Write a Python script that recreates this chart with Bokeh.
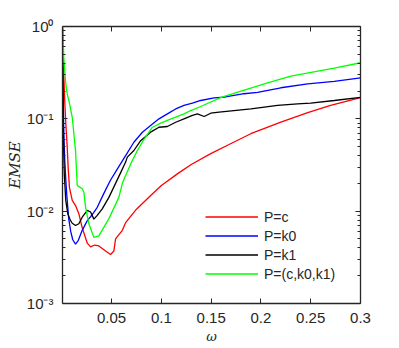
from bokeh.plotting import figure
from bokeh.models import (LinearAxis, LogAxis, FixedTicker, CustomJSTickFormatter,
                          Legend, LegendItem, Range1d)
from bokeh.embed import file_html
from bokeh.resources import INLINE

# ---- data ----
omega_c = [0.001, 0.0015, 0.002, 0.003, 0.004, 0.0054, 0.0065, 0.0077, 0.0105, 0.0138,
           0.0171, 0.0205, 0.0256, 0.0289, 0.0330, 0.0372, 0.044, 0.049, 0.0523, 0.054,
           0.0608, 0.0641, 0.075, 0.0893, 0.1, 0.1164, 0.13, 0.1496, 0.17, 0.1898,
           0.22, 0.247, 0.27, 0.3]
emse_c = [0.95, 0.5, 0.3, 0.15, 0.09, 0.05, 0.028, 0.018, 0.0131, 0.0115,
          0.0094, 0.0066, 0.0045, 0.0041, 0.0043, 0.0042, 0.0037, 0.0034, 0.0037, 0.0050,
          0.0062, 0.0075, 0.0105, 0.0148, 0.019, 0.0255, 0.032, 0.042, 0.054, 0.069,
          0.092, 0.117, 0.14, 0.17]

omega_k0 = [0.001, 0.0015, 0.002, 0.003, 0.004, 0.005, 0.006, 0.007, 0.009, 0.011,
            0.0138, 0.0165, 0.0205, 0.0256, 0.0289, 0.0322, 0.0356, 0.042, 0.0487, 0.0557,
            0.0641, 0.0724, 0.0809, 0.0892, 0.0976, 0.106, 0.1144, 0.1227, 0.1312, 0.1395,
            0.153, 0.163, 0.183, 0.1966, 0.22, 0.247, 0.2736, 0.3]
emse_k0 = [0.4, 0.15, 0.07, 0.035, 0.022, 0.015, 0.011, 0.0082, 0.006, 0.0049,
           0.0044, 0.0048, 0.0062, 0.0079, 0.0087, 0.0097, 0.011, 0.0154, 0.0215, 0.0285,
           0.040, 0.0558, 0.0716, 0.0846, 0.1, 0.113, 0.128, 0.14, 0.148, 0.158,
           0.169, 0.172, 0.187, 0.193, 0.217, 0.239, 0.255, 0.278]

omega_k1 = [0.001, 0.0015, 0.002, 0.0025, 0.004, 0.006, 0.0085, 0.0105, 0.0138, 0.0171,
            0.0205, 0.0256, 0.0289, 0.0322, 0.0356, 0.0406, 0.0473, 0.054, 0.059, 0.0641,
            0.0658, 0.0724, 0.0792, 0.0892, 0.0976, 0.106, 0.1144, 0.1227, 0.1312, 0.1362,
            0.143, 0.1496, 0.158, 0.19, 0.2167, 0.2368, 0.25, 0.2737, 0.3]
emse_k1 = [0.3, 0.1, 0.04, 0.025, 0.013, 0.0094, 0.008, 0.0074, 0.0070, 0.0073,
           0.0086, 0.0102, 0.0098, 0.0082, 0.009, 0.0106, 0.0141, 0.020, 0.026, 0.034,
           0.0385, 0.0454, 0.058, 0.0717, 0.0811, 0.0826, 0.0918, 0.1, 0.109, 0.113,
           0.106, 0.115, 0.118, 0.128, 0.14, 0.145, 0.148, 0.158, 0.171]

omega_all = [0.001, 0.002, 0.004, 0.0054, 0.0071, 0.0105, 0.0121, 0.0138, 0.0155, 0.0188,
             0.0205, 0.0222, 0.0239, 0.0272, 0.0322, 0.0372, 0.0473, 0.0573, 0.0608, 0.0641,
             0.0692, 0.0759, 0.0825, 0.091, 0.0976, 0.106, 0.1227, 0.1295, 0.1395, 0.16,
             0.18, 0.2067, 0.23, 0.2737, 0.3]
emse_all = [1.0, 0.45, 0.24, 0.186, 0.158, 0.104, 0.069, 0.045, 0.019, 0.018,
            0.0175, 0.016, 0.011, 0.0073, 0.0052, 0.0054, 0.0083, 0.0141, 0.020, 0.0244,
            0.0325, 0.0454, 0.060, 0.0811, 0.088, 0.096, 0.113, 0.123, 0.136, 0.171,
            0.2, 0.245, 0.29, 0.355, 0.405]

series_labels = ["P=c", "P=k0", "P=k1", "P=(c,k0,k1)"]
series_colors = ["#ff0000", "#0000ff", "#000000", "#00ff00"]

x_ticks = [0.05, 0.1, 0.15, 0.2, 0.25, 0.3]
x_tick_labels = ["0.05", "0.1", "0.15", "0.2", "0.25", "0.3"]
y_ticks = [1e-3, 1e-2, 1e-1, 1.0]
y_tick_labels = ["10\u207b\u00b3", "10\u207b\u00b2", "10\u207b\u00b9", "10\u2070"]
y_minor = [m * 10.0 ** e for e in (-3, -2, -1) for m in range(2, 10)]

AX = "#262626"
TICK_FONT = "Liberation Sans"

p = figure(width=395, height=348, x_range=Range1d(0.0007, 0.3), y_range=Range1d(1e-3, 1.0),
           y_axis_type="log", output_backend="svg", toolbar_location=None,
           min_border_left=62, min_border_right=35, min_border_top=26, min_border_bottom=45)
p.grid.visible = False
p.outline_line_color = None
p.background_fill_color = "white"
p.border_fill_color = "white"

xs = [omega_c, omega_k0, omega_k1, omega_all]
ys = [emse_c, emse_k0, emse_k1, emse_all]
renderers = []
for x, y, c in zip(xs, ys, series_colors):
    renderers.append(p.line(x, y, line_color=c, line_width=1.3))

fmt_x = CustomJSTickFormatter(args=dict(tv=x_ticks, tl=x_tick_labels), code="""
for (let i = 0; i < tv.length; i++) { if (Math.abs(tick - tv[i]) < 1e-9) return tl[i]; }
return '';
""")
fmt_y = CustomJSTickFormatter(args=dict(tv=y_ticks, tl=y_tick_labels), code="""
for (let i = 0; i < tv.length; i++) { if (Math.abs(Math.log10(tick) - Math.log10(tv[i])) < 1e-6) return tl[i]; }
return '';
""")
blank = CustomJSTickFormatter(code="return '';")


def style(ax):
    ax.axis_line_color = AX
    ax.axis_line_width = 1.3
    ax.major_tick_line_color = AX
    ax.minor_tick_line_color = AX
    ax.major_tick_in = 5
    ax.major_tick_out = 0
    ax.minor_tick_in = 3
    ax.minor_tick_out = 0
    ax.major_label_text_font = TICK_FONT
    ax.major_label_text_font_size = "15px"
    ax.major_label_text_color = AX


xa = p.xaxis[0]
xa.ticker = FixedTicker(ticks=x_ticks)
xa.formatter = fmt_x
style(xa)
xa.major_label_standoff = 9
xa.axis_label = "\u03c9"
xa.axis_label_text_font = "DejaVu Serif"
xa.axis_label_text_font_style = "italic"
xa.axis_label_text_font_size = "13px"
xa.axis_label_text_color = AX
xa.axis_label_standoff = 3

ya = p.yaxis[0]
ya.ticker = FixedTicker(ticks=y_ticks, minor_ticks=y_minor)
ya.formatter = fmt_y
style(ya)
ya.major_label_standoff = 9
ya.axis_label = "EMSE"
ya.axis_label_text_font = "DejaVu Serif"
ya.axis_label_text_font_style = "italic"
ya.axis_label_text_font_size = "15px"
ya.axis_label_text_color = AX
ya.axis_label_standoff = 0

top = LinearAxis(ticker=FixedTicker(ticks=x_ticks), formatter=blank)
style(top)
p.add_layout(top, "above")
right = LogAxis(ticker=FixedTicker(ticks=y_ticks, minor_ticks=y_minor), formatter=blank)
style(right)
p.add_layout(right, "right")

legend = Legend(items=[LegendItem(label=l, renderers=[r]) for l, r in zip(series_labels, renderers)],
                location=(143, 20), orientation="vertical",
                border_line_color=None, background_fill_alpha=0,
                padding=0, margin=0, spacing=0,
                glyph_width=53, glyph_height=19, label_height=19, label_standoff=6,
                label_text_font=TICK_FONT, label_text_font_size="14px",
                label_text_color=AX)
p.add_layout(legend)

open("out.html", "w", encoding="utf-8").write(file_html(p, INLINE))
